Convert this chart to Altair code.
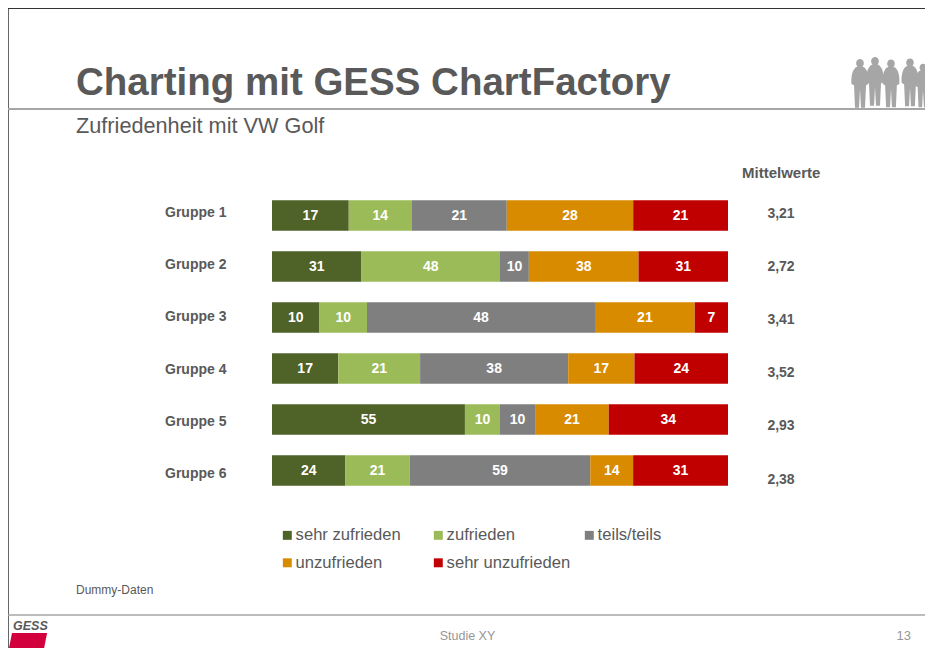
import altair as alt
import pandas as pd

groups = ["Gruppe 1", "Gruppe 2", "Gruppe 3", "Gruppe 4", "Gruppe 5", "Gruppe 6"]
categories = ["sehr zufrieden", "zufrieden", "teils/teils", "unzufrieden", "sehr unzufrieden"]
legend_order = ["sehr zufrieden", "unzufrieden", "zufrieden", "sehr unzufrieden", "teils/teils"]
colors = ["#4F6228", "#9BBB59", "#7F7F7F", "#D98B00", "#C00000"]
values = [
    [17, 14, 21, 28, 21],
    [31, 48, 10, 38, 31],
    [10, 10, 48, 21, 7],
    [17, 21, 38, 17, 24],
    [55, 10, 10, 21, 34],
    [24, 21, 59, 14, 31],
]
means = ["3,21", "2,72", "3,41", "3,52", "2,93", "2,38"]

rows = [
    {"group": g, "cat": c, "idx": j, "value": values[i][j]}
    for i, g in enumerate(groups)
    for j, c in enumerate(categories)
]
df = pd.DataFrame(rows)
gdf = pd.DataFrame({"group": groups, "mean": means})

W, H = 917, 640
FONT = "Liberation Sans"
GREY = "#595959"

stacked = (
    alt.Chart(df)
    .transform_stack(
        stack="value", groupby=["group"], as_=["s0", "s1"], offset="normalize",
        sort=[alt.SortField("idx", order="ascending")],
    )
    .transform_calculate(mid="(datum.s0 + datum.s1) / 2")
)
xs = alt.Scale(domain=[0, 1], range=[264, 720])
ys = alt.Scale(domain=groups, range=[182, 488], paddingInner=0.4, paddingOuter=0.2)

bars = stacked.mark_bar().encode(
    x=alt.X("s0:Q", scale=xs, axis=None),
    x2="s1:Q",
    y=alt.Y("group:N", scale=ys, axis=None),
    color=alt.Color(
        "cat:N",
        scale=alt.Scale(domain=categories, range=colors),
        legend=alt.Legend(
            title=None, orient="none", legendX=271, legendY=519, columns=3,
            values=legend_order,
            gridAlign="all", symbolType="square", symbolSize=80, symbolStrokeWidth=0,
            labelFont=FONT, labelFontSize=16.6, labelColor=GREY, columnPadding=10,
            rowPadding=10.5, labelOffset=0, symbolOpacity=1,
        ),
    ),
)
bar_text = stacked.mark_text(font=FONT, fontWeight="bold", fontSize=14, color="white").encode(
    x=alt.X("mid:Q", scale=xs, axis=None),
    y=alt.Y("group:N", scale=ys, axis=None),
    text="value:Q",
)
group_text = alt.Chart(gdf).mark_text(
    font=FONT, fontWeight="bold", fontSize=14, color=GREY, align="left", baseline="middle"
).encode(
    x=alt.value(157),
    y=alt.Y("group:N", scale=alt.Scale(type="point", padding=0, domain=groups, range=[205, 466]), axis=None, title=None),
    text="group:N",
)
mean_text = alt.Chart(gdf).mark_text(
    font=FONT, fontWeight="bold", fontSize=14, color=GREY, baseline="middle"
).encode(
    x=alt.value(773),
    y=alt.Y("group:N", scale=alt.Scale(type="point", padding=0, domain=groups, range=[205.5, 471.5]), axis=None, title=None),
    text="mean:N",
)

def label(text, x, y, size, color=GREY, weight="normal", align="left", style="normal"):
    return alt.Chart(pd.DataFrame({"t": [text]})).mark_text(
        font=FONT, fontSize=size, color=color, fontWeight=weight, align=align,
        baseline="middle", fontStyle=style,
    ).encode(x=alt.value(x), y=alt.value(y), text="t:N")

def hline(x1, x2, y, color, width):
    return alt.Chart(pd.DataFrame({"a": [0]})).mark_rule(color=color, strokeWidth=width).encode(
        x=alt.value(x1), x2=alt.value(x2), y=alt.value(y)
    )

def vline(x, y1, y2, color, width):
    return alt.Chart(pd.DataFrame({"a": [0]})).mark_rule(color=color, strokeWidth=width).encode(
        x=alt.value(x), y=alt.value(y1), y2=alt.value(y2)
    )

PERSON = "M0,-1 C0.16,-1 0.2,-0.78 0.1,-0.7 C0.34,-0.62 0.36,-0.2 0.34,0 L0.24,0.05 L0.2,0.95 L0.04,0.95 L0,0.2 L-0.04,0.95 L-0.2,0.95 L-0.24,0.05 L-0.34,0 C-0.36,-0.2 -0.34,-0.62 -0.1,-0.7 C-0.2,-0.78 -0.16,-1 0,-1 Z"
LOGO = "M-0.4,-0.5 L0.5,-0.5 L0.3,0.5 L-0.6,0.5 Z"
people_x = [852, 867, 883, 902, 915]
people_y = [76, 74, 76, 75, 78]
people_size = [2500, 2500, 2400, 2400, 2000]

def symbol(path, x, y, s, color):
    return alt.Chart(pd.DataFrame({"a": [0]})).mark_point(
        shape=path, filled=True, color=color, opacity=1, size=s, strokeWidth=0
    ).encode(x=alt.value(x), y=alt.value(y))

chart = alt.layer(
    vline(0.5, 0, H, "#666666", 1),
    hline(0, W, 0.5, "#333333", 1),
    *[symbol(PERSON, x, y, s, "#A6A6A6") for x, y, s in zip(people_x, people_y, people_size)],
    hline(0, W, 101, "#A6A6A6", 2),
    hline(0, W, 607, "#A6A6A6", 1.5),
    label("Charting mit GESS ChartFactory", 68, 75, 38.5, weight="bold"),
    label("Zufriedenheit mit VW Golf", 68, 118, 21.7),
    label("Mittelwerte", 734, 165, 15, weight="bold"),
    label("Dummy-Daten", 68, 582, 12),
    label("Studie XY", 459.5, 628, 12.5, color="#969696", align="center"),
    label("13", 903, 628, 13, color="#969696", align="right"),
    label("GESS", 5, 618, 12.5, color=GREY, weight="bold", style="italic"),
    symbol(LOGO, 19.6, 644.5, 6084, "#D2003C"),
    bars, bar_text, group_text, mean_text,
).resolve_scale(y="independent", x="shared", color="shared").properties(
    width=W, height=H, padding=0, autosize=alt.AutoSizeParams(type="none")
).configure_view(stroke=None)

chart.save("out.html", embed_options={"renderer": "svg", "actions": False})
